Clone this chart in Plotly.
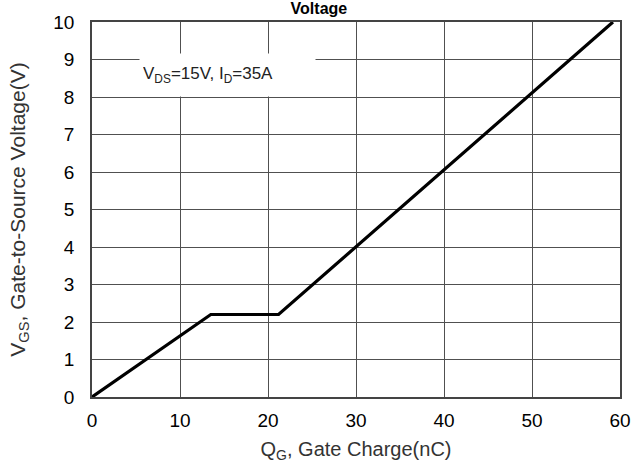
import plotly.graph_objects as go

qg_nc = [0, 13.5, 21.2, 59.2]
vgs_v = [0, 2.2, 2.2, 10]
x_ticks = [0, 10, 20, 30, 40, 50, 60]
y_ticks = list(range(0, 11))

fig = go.Figure()
fig.add_trace(go.Scatter(x=qg_nc, y=vgs_v, mode="lines",
                         line=dict(color="black", width=3.2), showlegend=False))

font = "Liberation Sans, Arial, sans-serif"
axis_common = dict(showgrid=True, gridcolor="#505050", gridwidth=1.3,
                   showline=True, linecolor="#444444", linewidth=1.5, mirror=True,
                   zeroline=False, ticks="", tickfont=dict(family=font, size=19, color="black"))

fig.update_layout(
    width=643, height=470,
    margin=dict(l=92, r=14, t=16, b=73),
    plot_bgcolor="white", paper_bgcolor="white",
    font=dict(family=font, color="#333333"),
    title=dict(text="<b>Voltage</b>", x=0.496, xanchor="center", xref="container",
               y=0.995, yanchor="top", yref="container", pad=dict(t=0, b=0),
               font=dict(family=font, size=16, color="black")),
    xaxis=dict(range=[0, 60], tickvals=x_ticks, ticklabelstandoff=5,
               title=dict(text="Q<sub>G</sub>, Gate Charge(nC)", font=dict(size=20, color="#333333"), standoff=12),
               **axis_common),
    yaxis=dict(range=[0, 10], tickvals=y_ticks, ticklabelstandoff=12,
               title=dict(text="V<sub>GS</sub>, Gate-to-Source Voltage(V)", font=dict(size=21, color="#333333"), standoff=22),
               **axis_common),
)

fig.add_annotation(x=15.4, y=8.58, xref="x", yref="y",
                   text="V<sub>DS</sub>=15V, I<sub>D</sub>=35A",
                   showarrow=False, bgcolor="white", width=169, height=36,
                   align="left", borderpad=3,
                   font=dict(family=font, size=17, color="#222222"))

fig.write_html("out.html")
